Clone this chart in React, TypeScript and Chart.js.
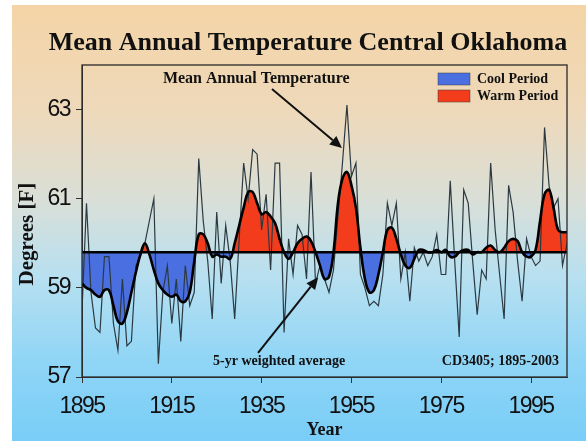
import React, { useEffect, useRef } from "react";
import { Chart, registerables } from "chart.js";

Chart.register(...registerables);

// ---------- data ----------
const START_YEAR = 1895;
const END_YEAR = 2003;
const BASELINE = 59.8;

// Mean annual temperature (°F), 1895..2003
const annualTemp = [
  58.5, 60.9, 58.9, 58.1, 58.0, 59.7, 59.7, 58.2, 57.6, 59.2,
  57.7, 57.8, 59.5, 59.7, 60.0, 60.5, 61.0, 57.3, 58.9, 59.5,
  58.2, 59.2, 57.8, 59.5, 58.6, 58.9, 61.9, 60.5, 59.6, 58.3,
  60.7, 59.1, 60.4, 59.6, 58.3, 60.1, 61.8, 61.0, 62.1, 62.0,
  60.3, 61.1, 59.4, 61.8, 61.8, 58.0, 60.1, 59.3, 60.4, 60.2,
  59.2, 61.6, 59.1, 59.5, 59.2, 58.9, 59.4, 60.6, 61.8, 63.1,
  61.5, 61.8, 59.3, 59.0, 58.6, 58.7, 58.6, 59.3, 60.9, 60.4,
  60.9, 59.2, 59.8, 58.7, 59.9, 59.6, 59.8, 59.5, 59.7, 60.2,
  59.3, 59.3, 61.4, 59.6, 57.9, 61.2, 60.9, 59.6, 58.4, 59.4,
  59.2, 61.8, 60.3, 59.3, 58.3, 61.3, 60.7, 59.6, 58.7, 60.1,
  59.7, 59.5, 59.6, 62.6, 61.3, 60.8, 61.0, 59.5, 60.0,
];

// 5-yr weighted average (°F), 1895..2003
const weightedAvg = [
  59.1, 59.0, 58.95, 58.85, 58.8, 58.95, 58.95, 58.6, 58.25, 58.2,
  58.45, 58.9, 59.35, 59.75, 60.0, 59.75, 59.4, 59.1, 58.95, 58.85,
  58.8, 58.85, 58.7, 58.7, 58.9, 59.6, 60.2, 60.2, 60.0, 59.7,
  59.75, 59.7, 59.7, 59.65, 60.0, 60.4, 60.8, 61.15, 61.15, 60.9,
  60.65, 60.7, 60.6, 60.45, 60.1, 59.8, 59.65, 59.8, 60.0, 60.1,
  60.15, 60.05, 59.8, 59.5, 59.2, 59.25, 59.8, 60.9, 61.45, 61.6,
  61.3, 60.8, 59.9, 59.2, 58.9, 58.95, 59.3, 59.8, 60.3, 60.35,
  60.1, 59.75, 59.5, 59.45, 59.65, 59.85, 59.85, 59.8, 59.8, 59.85,
  59.8, 59.85, 59.7, 59.7, 59.8, 59.85, 59.85, 59.75, 59.8, 59.8,
  59.9, 59.95, 59.85, 59.8, 59.9, 60.05, 60.1, 60.05, 59.8, 59.7,
  59.7, 59.85, 60.5, 61.1, 61.2, 60.8, 60.3, 60.25, 60.25,
];

const yTicks = [57, 59, 61, 63];
const xTicks = [1895, 1915, 1935, 1955, 1975, 1995];
const Y_MIN = 57;
const Y_MAX = 64;

const TITLE = "Mean Annual Temperature Central Oklahoma";
const X_TITLE = "Year";
const Y_TITLE = "Degrees [F]\u00a0\u00a0\u00a0\u00a0\u00a0";
const legendLabels = ["Cool Period", "Warm Period"];

// ---------- styles ----------
const COOL = "#4a6fe0";
const WARM = "#f23c1c";
const SERIF = "'Liberation Serif', 'Times New Roman', serif";
const SANS = "'Liberation Sans', Arial, sans-serif";
const INK = "#111";

const annotationLabels = [
  { text: "Mean Annual Temperature", year: 1933.8, value: 63.69, align: "center", size: 16 },
  { text: "5-yr weighted average", year: 1938.9, value: 57.34, align: "center", size: 14 },
  { text: "CD3405; 1895-2003", year: 2001.2, value: 57.34, align: "right", size: 14 },
];
const annotationArrows = [
  { from: [1937.3, 63.46], to: [1952.9, 62.14] },
  { from: [1934.2, 57.54], to: [1947.6, 59.24] },
];

const toPoints = (arr: number[]) => arr.map((v, i) => ({ x: START_YEAR + i, y: v }));

// tighter tick labels (the original uses a condensed sans face)
const tightTicksPlugin = {
  id: "tightTicks",
  afterLayout(chart: any) {
    for (const id of ["x", "y"]) {
      const s = chart.scales[id];
      if (s && !s.__tight) {
        const orig = s.drawLabels.bind(s);
        s.drawLabels = (area: any) => {
          const c = s.ctx;
          const prev = c.letterSpacing;
          c.letterSpacing = "-1.5px";
          orig(area);
          c.letterSpacing = prev || "0px";
        };
        s.__tight = true;
      }
    }
  },
};

const decorPlugin = {
  id: "decor",
  afterDraw(chart: any) {
    const { ctx, chartArea, scales } = chart;
    const xs = scales.x;
    const ys = scales.y;
    ctx.save();
    // frame
    ctx.strokeStyle = "#2a2a2a";
    ctx.lineWidth = 1.3;
    ctx.strokeRect(chartArea.left, chartArea.top, chartArea.right - chartArea.left, chartArea.bottom - chartArea.top);

    // title
    ctx.fillStyle = INK;
    ctx.font = `bold 26px ${SERIF}`;
    ctx.textAlign = "center";
    ctx.textBaseline = "middle";
    ctx.fillText(TITLE, 308, 43);

    // annotation labels
    for (const a of annotationLabels) {
      ctx.font = `bold ${a.size}px ${SERIF}`;
      ctx.textAlign = a.align as CanvasTextAlign;
      ctx.textBaseline = "middle";
      ctx.fillText(a.text, xs.getPixelForValue(a.year), ys.getPixelForValue(a.value));
    }

    // arrows
    ctx.strokeStyle = INK;
    ctx.fillStyle = INK;
    ctx.lineWidth = 2;
    for (const ar of annotationArrows) {
      const x1 = xs.getPixelForValue(ar.from[0]);
      const y1 = ys.getPixelForValue(ar.from[1]);
      const x2 = xs.getPixelForValue(ar.to[0]);
      const y2 = ys.getPixelForValue(ar.to[1]);
      const ang = Math.atan2(y2 - y1, x2 - x1);
      const hl = 12;
      const hw = 5.5;
      const bx = x2 - hl * Math.cos(ang);
      const by = y2 - hl * Math.sin(ang);
      ctx.beginPath();
      ctx.moveTo(x1, y1);
      ctx.lineTo(bx, by);
      ctx.stroke();
      ctx.beginPath();
      ctx.moveTo(x2, y2);
      ctx.lineTo(bx + hw * Math.sin(ang), by - hw * Math.cos(ang));
      ctx.lineTo(bx - hw * Math.sin(ang), by + hw * Math.cos(ang));
      ctx.closePath();
      ctx.fill();
    }

    // legend
    const lx = chartArea.right - 129;
    const ly = chartArea.top + 8;
    const colors = [COOL, WARM];
    legendLabels.forEach((lab, i) => {
      const top = ly + i * 17;
      ctx.fillStyle = colors[i];
      ctx.fillRect(lx, top, 32, 12);
      ctx.strokeStyle = "rgba(60,60,60,0.6)";
      ctx.lineWidth = 0.8;
      ctx.strokeRect(lx, top, 32, 12);
      ctx.fillStyle = INK;
      ctx.font = `bold 14px ${SERIF}`;
      ctx.textAlign = "left";
      ctx.textBaseline = "middle";
      ctx.fillText(lab, lx + 39, top + 6.5);
    });
    ctx.restore();
  },
};

export default function App() {
  const ref = useRef<HTMLCanvasElement>(null);

  useEffect(() => {
    const canvas = ref.current;
    if (!canvas) return;
    const tickFont = { family: SANS, size: 23 };
    const chart = new Chart(canvas, {
      type: "line",
      data: {
        datasets: [
          {
            label: "Baseline",
            data: [
              { x: START_YEAR, y: BASELINE },
              { x: END_YEAR, y: BASELINE },
            ],
            borderColor: "#000",
            borderWidth: 2.6,
            pointRadius: 0,
            fill: false,
          },
          {
            label: "5-yr weighted average",
            data: toPoints(weightedAvg),
            borderColor: "#000",
            borderWidth: 2.6,
            pointRadius: 0,
            tension: 0.4,
            fill: { target: { value: BASELINE }, above: WARM, below: COOL },
          },
          {
            label: "Mean Annual Temperature",
            data: toPoints(annualTemp),
            borderColor: "#2b3a42",
            borderWidth: 1.2,
            pointRadius: 0,
            tension: 0,
            fill: false,
          },
        ],
      } as any,
      options: {
        responsive: false,
        devicePixelRatio: 1,
        animation: false,
        layout: { padding: { top: 65, right: 19, left: 0, bottom: 0 } },
        plugins: {
          legend: { display: false },
          title: { display: false },
          tooltip: { enabled: false },
          filler: { drawTime: "beforeDatasetsDraw" },
        } as any,
        scales: {
          x: {
            type: "linear",
            min: START_YEAR,
            max: END_YEAR,
            afterBuildTicks: (s: any) => {
              s.ticks = xTicks.map((v) => ({ value: v }));
            },
            afterFit: (s: any) => {
              s.height = 64;
            },
            ticks: {
              callback: (v: any) => String(v),
              font: tickFont,
              color: INK,
              padding: 10,
              maxRotation: 0,
              autoSkip: false,
            },
            grid: { drawOnChartArea: false, drawTicks: true, tickLength: 6, color: "#333" },
            border: { display: true, color: "#333", width: 1 },
            title: {
              display: true,
              text: X_TITLE,
              color: INK,
              font: { family: SERIF, size: 18, weight: "bold" },
              padding: { top: 0, bottom: 0 },
            },
          },
          y: {
            type: "linear",
            min: Y_MIN,
            max: Y_MAX,
            afterBuildTicks: (s: any) => {
              s.ticks = yTicks.map((v) => ({ value: v }));
            },
            afterFit: (s: any) => {
              s.width = 82;
            },
            ticks: {
              callback: (v: any) => String(v),
              font: tickFont,
              color: INK,
              padding: 6,
              autoSkip: false,
            },
            grid: { drawOnChartArea: false, drawTicks: true, tickLength: 6, color: "#333" },
            border: { display: true, color: "#333", width: 1 },
            title: {
              display: true,
              text: Y_TITLE,
              color: INK,
              font: { family: SERIF, size: 21, weight: "bold" },
              padding: { top: 15, bottom: 0 },
            },
          },
        },
      } as any,
      plugins: [tightTicksPlugin, decorPlugin],
    });
    return () => chart.destroy();
  }, []);

  return (
    <div
      style={{
        position: "absolute",
        left: 0,
        top: 0,
        width: 586,
        height: 441,
        background: "#fff",
        overflow: "hidden",
      }}
    >
      <div
        style={{
          position: "absolute",
          left: 12,
          top: 5,
          right: 0,
          bottom: 0,
          background:
            "linear-gradient(to bottom, #f4d4a6 0%, #eed9bb 25%, #d9dfd8 45%, #b8e0f0 62%, #8fd5f6 82%, #79cdf7 100%)",
        }}
      />
      <canvas
        ref={ref}
        width={586}
        height={441}
        style={{ position: "absolute", left: 0, top: 0, width: 586, height: 441 }}
      />
    </div>
  );
}
